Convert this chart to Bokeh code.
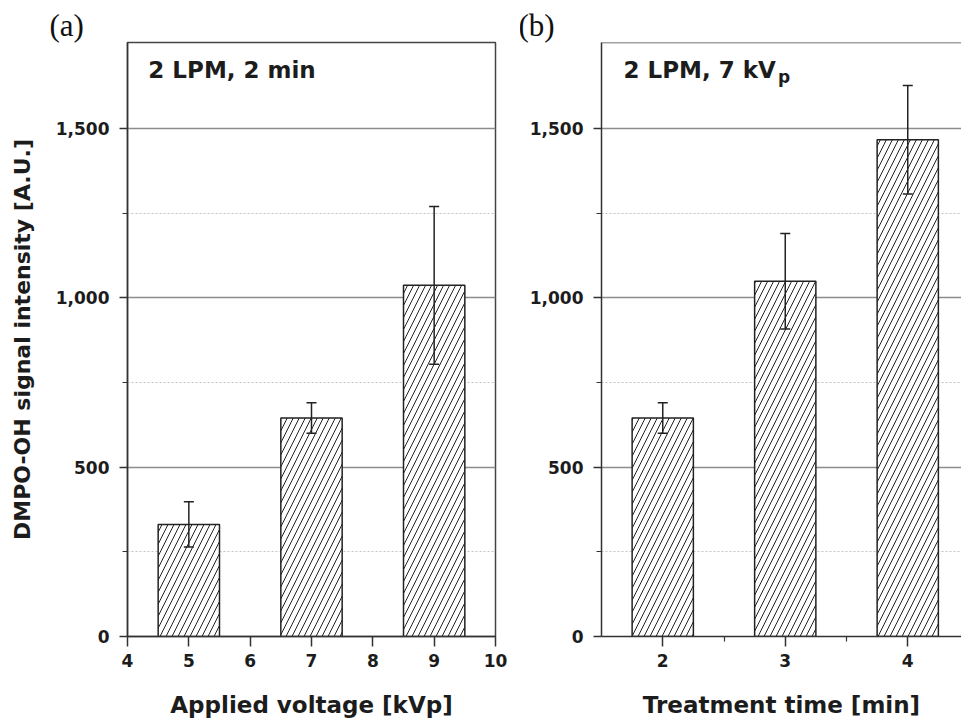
from bokeh.embed import file_html
from bokeh.layouts import row
from bokeh.models import (ColumnDataSource, FixedTicker, Label, NumeralTickFormatter,
                          Range1d, Span, TeeHead, Title, Whisker)
from bokeh.plotting import figure
from bokeh.resources import INLINE

# Panel (a): signal vs applied voltage (2 LPM, 2 min)
voltage_kvp = [5, 7, 9]
voltage_signal = [331, 645, 1037]
voltage_err = [67, 45, 233]

# Panel (b): signal vs treatment time (2 LPM, 7 kVp)
time_min = [2, 3, 4]
time_signal = [645, 1049, 1467]
time_err = [45, 141, 160]

y_major = [0, 500, 1000, 1500]
y_minor = [250, 750, 1250]
voltage_ticks = [4, 5, 6, 7, 8, 9, 10]
time_ticks = [2, 3, 4]
time_minor = [2.5, 3.5]

Y_TOP = 1754
INK = "#1c1c1c"
BOLD = "DejaVu Sans"
SERIF = "Liberation Serif"


def panel_tag(text, offset):
    return Title(text=text, align="left", offset=offset, standoff=0,
                 text_font=SERIF, text_font_style="normal",
                 text_font_size="31px", text_color="#111111")


def style(p, xticks, xminor, xlabel):
    p.y_range = Range1d(0, Y_TOP)
    p.yaxis.ticker = FixedTicker(ticks=y_major, minor_ticks=y_minor)
    p.yaxis.formatter = NumeralTickFormatter(format="0,0")
    p.xaxis.ticker = FixedTicker(ticks=xticks, minor_ticks=xminor)
    p.xaxis.axis_label = xlabel
    p.xaxis.axis_label_standoff = 22
    for ax in (p.xaxis, p.yaxis):
        ax.axis_label_text_font = BOLD
        ax.axis_label_text_font_style = "bold"
        ax.axis_label_text_font_size = "23px"
        ax.axis_label_text_color = INK
        ax.axis_line_color = "#333333"
        ax.axis_line_width = 1.5
        ax.major_tick_line_color = "#333333"
        ax.major_tick_line_width = 1.5
        ax.minor_tick_line_color = "#333333"
        ax.minor_tick_line_width = 1.2
        ax.major_tick_in = 0
        ax.minor_tick_in = 0
        ax.major_label_text_font = BOLD
        ax.major_label_text_font_style = "bold"
        ax.major_label_text_font_size = "17px"
        ax.major_label_text_color = INK
    p.xaxis.major_tick_out = 10
    p.xaxis.minor_tick_out = 5
    p.xaxis.major_label_standoff = 7
    p.yaxis.major_tick_out = 8
    p.yaxis.minor_tick_out = 5
    p.yaxis.major_label_standoff = 10
    p.xgrid.grid_line_color = None
    p.ygrid.ticker = FixedTicker(ticks=y_major, minor_ticks=y_minor)
    p.ygrid.grid_line_color = "#8c8c8c"
    p.ygrid.grid_line_width = 1.4
    p.ygrid.minor_grid_line_color = "#c4c4c4"
    p.ygrid.minor_grid_line_dash = "2 2"
    p.ygrid.minor_grid_line_width = 1.2
    p.background_fill_color = "white"
    p.border_fill_color = "white"


def bars(p, xs, ys, errs, width):
    src = ColumnDataSource(dict(
        x=xs, top=ys,
        upper=[y + e for y, e in zip(ys, errs)],
        lower=[y - e for y, e in zip(ys, errs)],
    ))
    p.vbar(x="x", top="top", bottom=0, width=width, source=src,
           fill_color="white", line_color="#222222", line_width=1.5,
           hatch_pattern="/", hatch_color="#222222", hatch_weight=1.0,
           hatch_scale=12)
    p.add_layout(Whisker(
        base="x", upper="upper", lower="lower", source=src,
        line_color="#222222", line_width=1.5, level="overlay",
        upper_head=TeeHead(size=10, line_color="#222222", line_width=1.5),
        lower_head=TeeHead(size=10, line_color="#222222", line_width=1.5),
    ))


# ---- panel (a)
pa = figure(width=520, height=723, output_backend="svg", toolbar_location=None,
            x_range=Range1d(4, 10), min_border_left=127, min_border_right=25,
            min_border_top=42, min_border_bottom=87,
            title=panel_tag("(a)", -78))
style(pa, voltage_ticks, [], "Applied voltage [kVp]")
pa.yaxis.axis_label = "DMPO-OH signal intensity [A.U.]"
pa.yaxis.axis_label_text_font_size = "22px"
pa.yaxis.axis_label_standoff = 18
pa.outline_line_color = "#444444"
pa.outline_line_width = 1.5
bars(pa, voltage_kvp, voltage_signal, voltage_err, 1.0)

pa.add_layout(Label(x=4.34, y=1633, text="2 LPM, 2 min", text_font=BOLD,
                    text_font_style="bold", text_font_size="23px", text_color=INK))

# ---- panel (b)
pb = figure(width=441, height=723, output_backend="svg", toolbar_location=None,
            x_range=Range1d(1.5, 1.5 + 360 / 122.5), min_border_left=81,
            min_border_right=0, min_border_top=42, min_border_bottom=87,
            title=panel_tag("(b)", -83))
style(pb, time_ticks, time_minor, "Treatment time [min]")
pb.outline_line_color = None
pb.add_layout(Span(location=Y_TOP, dimension="width", line_color="#444444",
                   line_width=1.5))
bars(pb, time_min, time_signal, time_err, 0.5)

pb.add_layout(Label(x=1.68, y=1633, text="2 LPM, 7 kV", text_font=BOLD,
                    text_font_style="bold", text_font_size="23px", text_color=INK))
pb.add_layout(Label(x=2.94, y=1622, text="p", text_font=BOLD,
                    text_font_style="bold", text_font_size="17px", text_color=INK))

layout = row(pa, pb)
open("out.html", "w").write(file_html(layout, INLINE))
